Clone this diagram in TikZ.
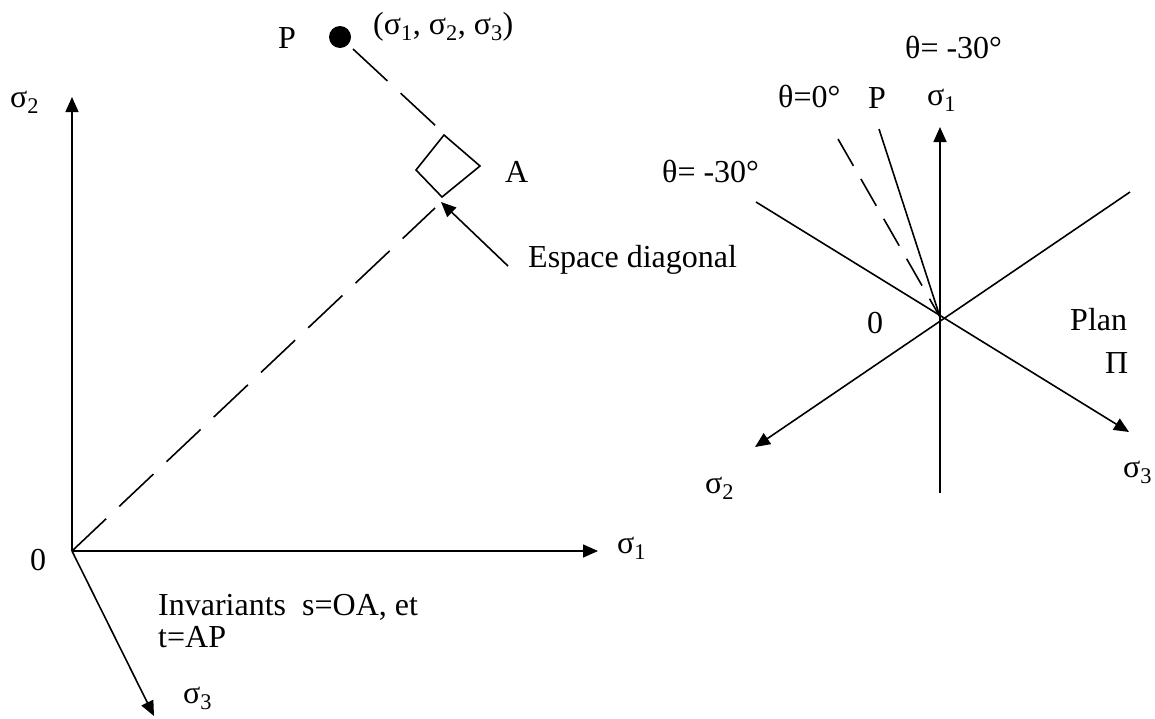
\documentclass[tikz,border=0pt]{standalone}
\usepackage{fontspec}
\setmainfont{Liberation Serif}
\usetikzlibrary{arrows.meta,positioning}
\tikzset{
  axis/.style={-{Triangle[length=15pt,width=13pt]}, line width=1.6pt},
  plain/.style={line width=1.6pt},
  longdash/.style={line width=1.6pt, dash pattern=on 47pt off 18pt},
  shortdash/.style={line width=1.6pt, dash pattern=on 31pt off 15pt},
  lbl/.style={font=\fontsize{32}{33}\selectfont, inner sep=0pt, anchor=base west}
}

\begin{document}
\begin{tikzpicture}[x=1pt, y=-1pt]
  \useasboundingbox (0,0) rectangle (1155,718);

  % principal stress space
  \coordinate (O) at (72,551);
  \coordinate (s1end) at (598,551);
  \coordinate (s2end) at (72,97);
  \coordinate (s3end) at (154,716);
  \draw[axis] (O) -- (s1end);
  \draw[axis] (O) -- (s2end);
  \draw[axis] (O) -- (s3end);

  \node[circle, fill, inner sep=0pt, minimum size=22pt] (P) at (340,37) {};
  \coordinate (Pfoot) at (353,49);
  \coordinate (Atop) at (437,127);
  \coordinate (Abot) at (435,208);
  \draw[longdash] (O) -- (Abot);
  \draw[longdash] (Pfoot) -- (Atop);

  % right angle mark at A
  \coordinate (sqN) at (444,135);
  \coordinate (sqE) at (480,166);
  \coordinate (sqS) at (442,197);
  \coordinate (sqW) at (416,170);
  \draw[plain] (sqN) -- (sqE) -- (sqS) -- (sqW) -- cycle;

  \coordinate (diagtail) at (508,266);
  \coordinate (diagtip) at (441,202);
  \draw[axis] (diagtail) -- (diagtip);

  \node[lbl] (s2lbl) at (10,107) {σ\textsubscript{2}};
  \node[lbl] (s1lbl) at (617,553) {σ\textsubscript{1}};
  \node[lbl] (s3lbl) at (183,703) {σ\textsubscript{3}};
  \node[lbl] (Olbl) at (30,570) {0};
  \node[lbl] (Plbl) at (278,48) {P};
  \node[lbl] (Pcoord) at (373,34) {(σ\textsubscript{1}, σ\textsubscript{2}, σ\textsubscript{3})};
  \node[lbl] (Albl) at (505,182) {A};
  \node[lbl] (diaglbl) at (528,267) {Espace diagonal};
  \node[lbl] (inv1) at (158,615) {Invariants \ s=OA, et};
  \node[lbl] (inv2) at (158,647) {t=AP};

  % deviatoric plane
  \coordinate (C) at (940,317);
  \coordinate (v1bot) at (940,493);
  \coordinate (v1top) at (940,127);
  \coordinate (m30) at (756,202);
  \coordinate (v3tip) at (1129,432);
  \coordinate (ur) at (1130,192);
  \coordinate (v2tip) at (755,447);
  \coordinate (Pdir) at (879,129);
  \coordinate (zdir) at (838,139);
  \draw[axis] (v1bot) -- (v1top);
  \draw[axis] (m30) -- (v3tip);
  \draw[axis] (ur) -- (v2tip);
  \draw[plain] (C) -- (Pdir);
  \draw[shortdash] (zdir) -- (C);

  \node[lbl] (th1) at (905,58) {θ= -30°};
  \node[lbl] (th0) at (778,107) {θ=0°};
  \node[lbl] (Pr) at (868,108) {P};
  \node[lbl] (v1lbl) at (927,105) {σ\textsubscript{1}};
  \node[lbl] (th2) at (662,182) {θ= -30°};
  \node[lbl] (Or) at (867,333) {0};
  \node[lbl] (plan) at (1070,330) {Plan};
  \node[lbl] (pi) at (1105,373) {Π};
  \node[lbl] (v2lbl) at (705,493) {σ\textsubscript{2}};
  \node[lbl] (v3lbl) at (1123,477) {σ\textsubscript{3}};
\end{tikzpicture}
\end{document}
